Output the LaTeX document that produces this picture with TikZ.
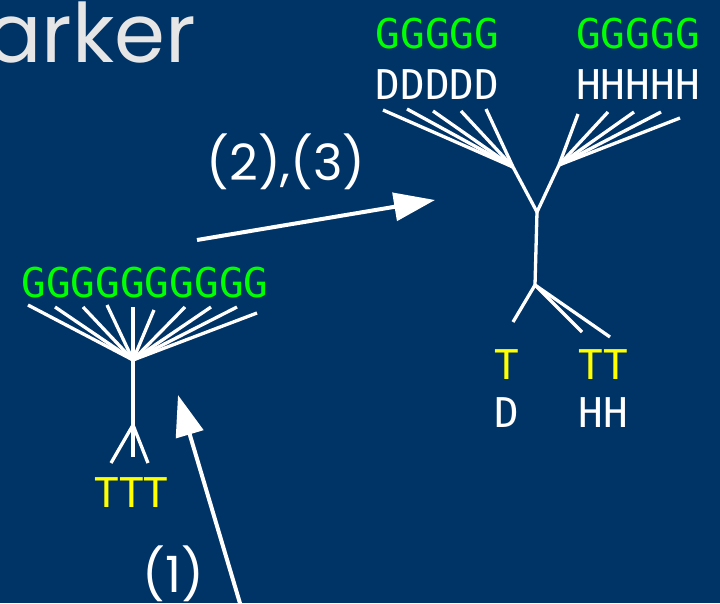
\documentclass[tikz,border=0pt]{standalone}
\usepackage{fontspec}
\usetikzlibrary{arrows.meta}
\newfontfamily\monof{DejaVu Sans Mono}
\newfontfamily\geof{Poppins}
\definecolor{bg}{RGB}{0,51,102}
\definecolor{seqgreen}{RGB}{0,255,0}
\definecolor{seqyellow}{RGB}{255,255,0}
\definecolor{titlegray}{RGB}{230,230,230}
\tikzset{
  seq/.style={font=\monof\fontsize{41}{41}\selectfont, inner sep=0pt, anchor=base},
  gseq/.style={seq, text=seqgreen},
  yseq/.style={seq, text=seqyellow},
  wseq/.style={seq, text=white},
  branch/.style={draw=white, line width=3.3pt},
  bigarrow/.style={draw=white, line width=4pt, -{Triangle[length=41pt,width=28pt]}},
  steplabel/.style={font=\geof\fontsize{50}{50}\selectfont, text=white, inner sep=0pt, anchor=base},
}
\begin{document}
\begin{tikzpicture}[x=1pt,y=-1pt]
\fill[bg] (0,0) rectangle (720,603);
\useasboundingbox (0,0) rectangle (720,603);
\clip (0,0) rectangle (720,603);

% title
\node[font=\geof\fontsize{82}{82}\selectfont, text=titlegray, inner sep=0pt, anchor=base east] (title) at (196,62) {arker};

% left tree
\node[gseq] (lg) at (145,297) {GGGGGGGGGG};
\node[yseq] (lt) at (131.5,507) {TTT};
\coordinate (L0) at (133,360);
\coordinate (Ls) at (133,425);
\foreach \i/\px/\py in {1/28/305,2/55/307,3/83/307,4/107/305,5/133/307,6/154/310,7/185/307,8/211/307,9/237/307,10/257/313}{
  \coordinate (L\i) at (\px,\py);
  \draw[branch] (L0) -- (L\i);
}
\draw[branch] (L0) -- (Ls);
\coordinate (Lt1) at (111,463);
\coordinate (Lt2) at (133,457);
\coordinate (Lt3) at (148,463);
\foreach \i in {1,2,3}{\draw[branch] (Ls) -- (Lt\i);}

% right tree
\node[gseq] (rg1) at (437.5,48) {GGGGG};
\node[wseq] (rd) at (437.5,99) {DDDDD};
\node[gseq] (rg2) at (638,48) {GGGGG};
\node[wseq] (rh) at (638,99) {HHHHH};
\node[yseq] (rt1) at (507,379) {T};
\node[yseq] (rt2) at (603,379) {TT};
\node[wseq] (rd2) at (507,427) {D};
\node[wseq] (rh2) at (603.5,427) {HH};

\coordinate (A0) at (513,167);
\foreach \i/\px/\py in {1/383/110,2/407/109,3/433/111,4/461/111,5/486/109}{
  \coordinate (A\i) at (\px,\py);
  \draw[branch] (A0) -- (A\i);
}
\coordinate (B0) at (559,165);
\foreach \i/\px/\py in {1/578/114,2/608/112,3/634/112,4/661/112,5/680/118}{
  \coordinate (B\i) at (\px,\py);
  \draw[branch] (B0) -- (B\i);
}
\coordinate (J) at (537,212);
\coordinate (Js) at (535,285);
\draw[branch] (A0) -- (J) -- (B0);
\draw[branch] (J) -- (Js);
\coordinate (C1) at (513,322);
\coordinate (C2) at (582,332);
\coordinate (C3) at (610,337);
\foreach \i in {1,2,3}{\draw[branch] (Js) -- (C\i);}

% arrows and labels
\coordinate (a1s) at (242,610);
\coordinate (a1e) at (178,395);
\draw[bigarrow] (a1s) -- (a1e);
\coordinate (a2s) at (197,240);
\coordinate (a2e) at (435,200);
\draw[bigarrow] (a2s) -- (a2e);
\node[steplabel] (l23) at (286,180) {(2),(3)};
\node[steplabel] (l1) at (173,592) {(1)};
\end{tikzpicture}
\end{document}
